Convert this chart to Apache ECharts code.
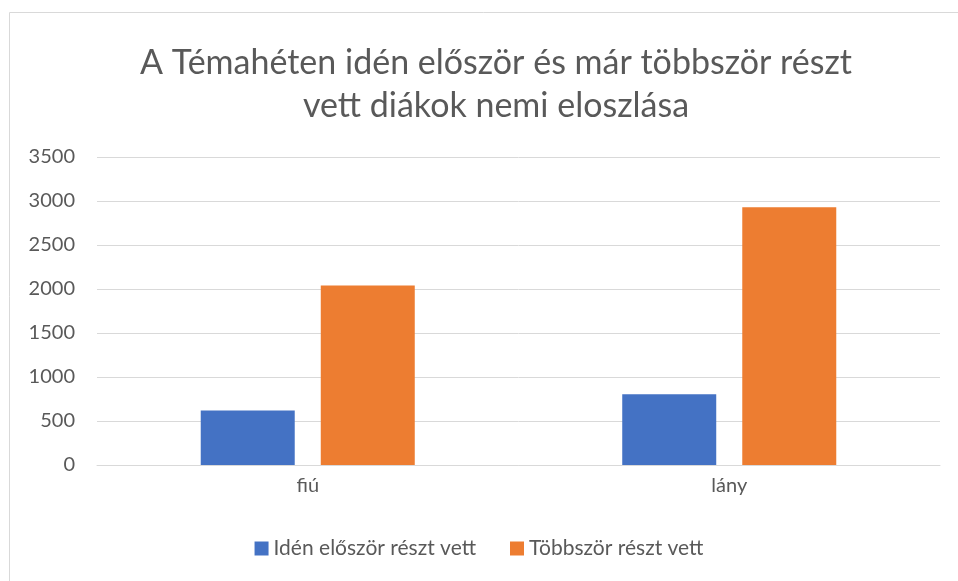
<!DOCTYPE html>
<html>
<head>
<meta charset="utf-8">
<script src="https://cdn.jsdelivr.net/npm/echarts@6/dist/echarts.min.js"></script>
<style>
  html, body { margin: 0; padding: 0; background: #fff; }
  #chart { width: 958px; height: 581px; }
</style>
</head>
<body>
<div id="chart"></div>
<script>
// data
const categories = ['fiú', 'lány']
const firstTime = [620, 805]
const severalTimes = [2040, 2930]
const seriesNames = ['Idén először részt vett', 'Többször részt vett']

const textColor = '#595959'
const font = 'Lato, "Open Sans", sans-serif'

let myChart = echarts.init(document.getElementById('chart'))
let option = {
  color: ['#4472C4', '#ED7D31'],
  animation: false,
  title: {
    text: 'A Témahéten idén először és már többször részt\nvett diákok nemi eloszlása',
    left: 491,
    top: 37,
    textAlign: 'center',
    textStyle: {
      color: textColor,
      fontSize: 34,
      fontWeight: 'normal',
      fontFamily: font,
      lineHeight: 43,
    },
  },
  graphic: [
    { type: 'line', shape: { x1: 9.5, y1: 12.5, x2: 9.5, y2: 581 }, style: { stroke: '#d9d9d9', lineWidth: 1 } },
    { type: 'line', shape: { x1: 9.5, y1: 12.5, x2: 958, y2: 12.5 }, style: { stroke: '#d9d9d9', lineWidth: 1 } },
  ],
  legend: {
    data: seriesNames,
    bottom: 17,
    left: 'center',
    itemWidth: 14,
    itemHeight: 14,
    itemGap: 34,
    icon: 'rect',
    textStyle: {
      color: textColor,
      fontSize: 21,
      fontFamily: font,
    },
  },
  grid: {
    left: 97,
    right: 18,
    top: 157,
    bottom: 116,
  },
  xAxis: {
    type: 'category',
    data: categories,
    axisTick: { show: false },
    axisLine: { lineStyle: { color: '#d9d9d9', width: 1 } },
    axisLabel: {
      color: textColor,
      fontSize: 20,
      fontFamily: font,
      margin: 11,
    },
  },
  yAxis: {
    type: 'value',
    min: 0,
    max: 3500,
    interval: 500,
    axisLine: { show: false },
    axisTick: { show: false },
    splitLine: { lineStyle: { color: '#d9d9d9', width: 1 } },
    axisLabel: {
      color: textColor,
      fontSize: 20,
      fontFamily: font,
      margin: 22,
      formatter: (v) => String(v),
    },
  },
  series: [
    {
      name: seriesNames[0],
      type: 'bar',
      data: firstTime,
      barWidth: '22.3%',
      barGap: '27.7%',
    },
    {
      name: seriesNames[1],
      type: 'bar',
      data: severalTimes,
      barWidth: '22.3%',
      barGap: '27.7%',
    },
  ],
}
option && myChart.setOption(option)
</script>
</body>
</html>
